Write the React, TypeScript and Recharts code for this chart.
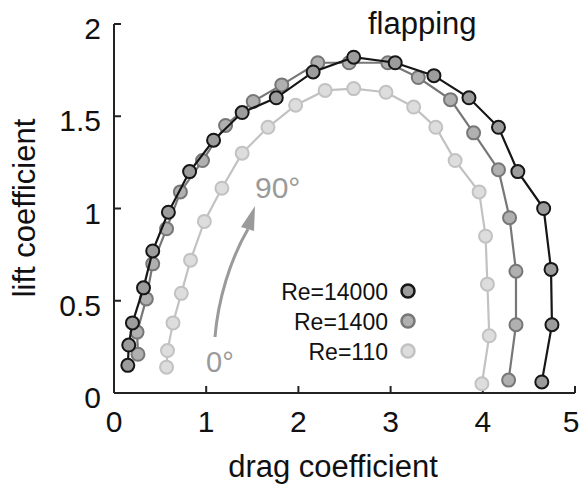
import { ScatterChart, Scatter, XAxis, YAxis, Customized } from 'recharts';

const FONT = '"Liberation Sans", Arial, Helvetica, sans-serif';

// drag / lift coefficient pairs, stroke angle 0° -> 90° -> 180°
const re14000Drag = [0.15, 0.16, 0.2, 0.32, 0.42, 0.59, 0.82, 1.08, 1.39, 1.76, 2.16, 2.6, 3.05, 3.47, 3.85, 4.17, 4.38, 4.66, 4.74, 4.75, 4.64];
const re14000Lift = [0.15, 0.26, 0.38, 0.57, 0.77, 0.98, 1.2, 1.37, 1.52, 1.6, 1.74, 1.82, 1.79, 1.72, 1.6, 1.44, 1.2, 1.0, 0.67, 0.37, 0.06];

const re1400Drag = [0.26, 0.25, 0.35, 0.42, 0.57, 0.72, 0.96, 1.21, 1.51, 1.82, 2.21, 2.55, 2.97, 3.3, 3.65, 3.9, 4.17, 4.29, 4.36, 4.36, 4.28];
const re1400Lift = [0.21, 0.33, 0.51, 0.7, 0.89, 1.09, 1.26, 1.45, 1.58, 1.67, 1.79, 1.79, 1.79, 1.71, 1.59, 1.41, 1.21, 0.95, 0.66, 0.37, 0.07];

const re110Drag = [0.57, 0.58, 0.64, 0.73, 0.83, 0.98, 1.17, 1.39, 1.67, 1.97, 2.29, 2.6, 2.95, 3.25, 3.49, 3.7, 3.96, 4.03, 4.05, 4.07, 3.99];
const re110Lift = [0.14, 0.23, 0.38, 0.54, 0.72, 0.93, 1.11, 1.3, 1.44, 1.56, 1.64, 1.65, 1.63, 1.55, 1.44, 1.26, 1.09, 0.85, 0.59, 0.31, 0.05];

const xTicks = [0, 1, 2, 3, 4, 5];
const yTicks = [0, 0.5, 1, 1.5, 2];

const series = [
  { name: 'Re=110', drag: re110Drag, lift: re110Lift, stroke: '#c2c2c2', fill: '#dddddd' },
  { name: 'Re=1400', drag: re1400Drag, lift: re1400Lift, stroke: '#777777', fill: '#b0b0b0' },
  { name: 'Re=14000', drag: re14000Drag, lift: re14000Lift, stroke: '#161616', fill: '#9c9c9c' },
];

const toPoints = (drag: number[], lift: number[]) => drag.map((d, i) => ({ x: d, y: lift[i] }));

const marker = (stroke: string, fill: string) => (props: any) => (
  <circle cx={props.cx} cy={props.cy} r={6.5} fill={fill} stroke={stroke} strokeWidth={2} />
);

// last label sits at the right edge of the page, nudge it in a bit
const XTick = ({ x, y, payload }: any) => (
  <text
    x={payload.value === 5 ? x - 4 : x}
    y={y + 22}
    textAnchor="middle"
    fontSize={30}
    fontFamily={FONT}
    fill="#111"
  >
    {payload.value}
  </text>
);

const YTick = ({ x, y, payload }: any) => (
  <text x={x} y={y + 15} textAnchor="end" fontSize={30} fontFamily={FONT} fill="#111">
    {payload.value}
  </text>
);

// labels, title, angle arrow and the legend box
const Annotations = () => (
  <g fontFamily={FONT}>
    <text x={368} y={34} fontSize={31} fill="#111">flapping</text>
    <text x={333} y={477} fontSize={31} fill="#111" textAnchor="middle">drag coefficient</text>
    <text x={35} y={208} fontSize={31} fill="#111" textAnchor="middle" transform="rotate(-90 35 208)">
      lift coefficient
    </text>
    <text x={255} y={198} fontSize={30} fill="#9a9a9a">90°</text>
    <text x={206} y={372} fontSize={29} fill="#9a9a9a">0°</text>
    <path d="M215,337 C218,300 230,260 248,229" fill="none" stroke="#9a9a9a" strokeWidth={3} />
    <polygon points="255,206 241,227 254,231" fill="#9a9a9a" />
    {[...series].reverse().map((s, i) => (
      <g key={s.name}>
        <text x={388} y={300 + i * 30} fontSize={23} fill="#111" textAnchor="end">{s.name}</text>
        <circle cx={408} cy={291 + i * 30} r={6.5} fill={s.fill} stroke={s.stroke} strokeWidth={2.5} />
      </g>
    ))}
  </g>
);

export default function App() {
  return (
    <div style={{ position: 'absolute', left: 0, top: 0, background: '#fff' }}>
      <ScatterChart width={581} height={484} margin={{ top: 24, right: 6, bottom: 31, left: 10 }}>
        <XAxis
          type="number"
          dataKey="x"
          domain={[0, 5]}
          ticks={xTicks}
          interval={0}
          height={60}
          tickSize={-7}
          tickMargin={24}
          axisLine={{ stroke: '#222', strokeWidth: 2 }}
          tickLine={{ stroke: '#222', strokeWidth: 2 }}
          tick={XTick}
        />
        <YAxis
          type="number"
          dataKey="y"
          domain={[0, 2]}
          ticks={yTicks}
          interval={0}
          width={104}
          tickSize={-7}
          tickMargin={20}
          axisLine={{ stroke: '#222', strokeWidth: 2 }}
          tickLine={{ stroke: '#222', strokeWidth: 2 }}
          tick={YTick}
        />
        {series.map((s) => (
          <Scatter
            key={s.name}
            name={s.name}
            data={toPoints(s.drag, s.lift)}
            line={{ stroke: s.stroke, strokeWidth: 2.2 }}
            shape={marker(s.stroke, s.fill)}
            isAnimationActive={false}
          />
        ))}
        <Customized component={Annotations} />
      </ScatterChart>
    </div>
  );
}
